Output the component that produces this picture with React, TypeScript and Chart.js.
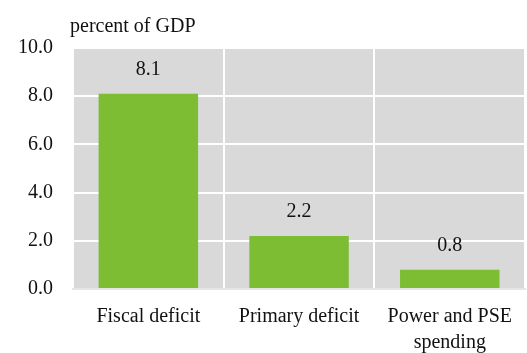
import React, { useEffect, useRef } from "react";
import { Chart, registerables } from "chart.js";

Chart.register(...registerables);

const categories: (string | string[])[] = ["Fiscal deficit", "Primary deficit", ["Power and PSE", "spending"]];
const values: number[] = [8.1, 2.2, 0.8];
const yTitle = "percent of GDP";

const FONT = "'Liberation Serif', serif";
const FS = 20;

const bgPlugin = {
  id: "bgPlugin",
  beforeDraw(chart: any) {
    const { ctx, chartArea } = chart;
    ctx.save();
    ctx.fillStyle = "#d9d9d9";
    ctx.fillRect(chartArea.left, chartArea.top, chartArea.right - chartArea.left, chartArea.bottom - chartArea.top);
    ctx.restore();
  },
  afterDraw(chart: any) {
    const { ctx, chartArea } = chart;
    ctx.save();
    ctx.fillStyle = "#111";
    ctx.font = `${FS}px ${FONT}`;
    ctx.textAlign = "left";
    ctx.textBaseline = "alphabetic";
    ctx.fillText(yTitle, chartArea.left - 3, 32);
    const meta = chart.getDatasetMeta(0);
    ctx.textAlign = "center";
    ctx.textBaseline = "bottom";
    meta.data.forEach((bar: any, i: number) => {
      ctx.fillText(values[i].toFixed(1), bar.x, bar.y - 14);
    });
    ctx.restore();
  },
};

export default function App() {
  const ref = useRef<HTMLCanvasElement>(null);
  useEffect(() => {
    const chart = new Chart(ref.current!, {
      type: "bar",
      data: {
        labels: categories,
        datasets: [
          {
            data: values,
            backgroundColor: "#7cbd34",
            borderWidth: 0,
            categoryPercentage: 0.66,
            barPercentage: 1,
          },
        ],
      },
      options: {
        animation: false,
        responsive: false,
        maintainAspectRatio: false,
        layout: { padding: { top: 48, right: 0, bottom: 0, left: 0 } },
        plugins: { legend: { display: false }, tooltip: { enabled: false }, title: { display: false } },
        scales: {
          x: {
            grid: { color: "#ffffff", lineWidth: 2, offset: true, drawTicks: false },
            border: { display: true, color: "#e6e6e6", width: 2 },
            ticks: { color: "#111", font: { family: FONT, size: FS, lineHeight: 1.3 }, padding: 15, maxRotation: 0, autoSkip: false },
            afterFit(scale: any) {
              scale.height = 64;
            },
          },
          y: {
            min: 0,
            max: 10,
            grid: { color: "#ffffff", lineWidth: 2, drawTicks: false },
            border: { display: false },
            ticks: {
              stepSize: 2,
              color: "#111",
              font: { family: FONT, size: FS },
              padding: 20,
              callback: (v: any) => Number(v).toFixed(1),
            },
            afterFit(scale: any) {
              scale.width = 73;
            },
          },
        },
      },
      plugins: [bgPlugin],
    });
    return () => chart.destroy();
  }, []);
  return (
    <div style={{ position: "fixed", left: 0, top: 0, width: 527, height: 353, background: "#fff" }}>
      <canvas ref={ref} width={527} height={353} style={{ display: "block" }} />
    </div>
  );
}
